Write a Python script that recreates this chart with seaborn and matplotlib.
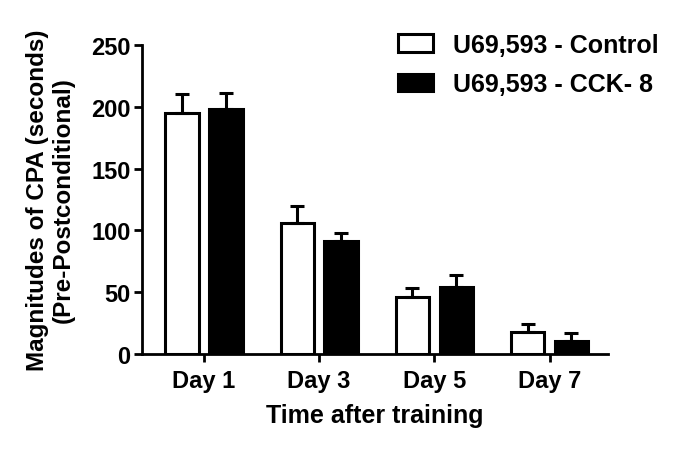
import pandas as pd
import matplotlib
matplotlib.use("Agg")
import matplotlib.pyplot as plt
import seaborn as sns

# === Data ===
days = ["Day 1", "Day 3", "Day 5", "Day 7"]
groups = ["U69,593 - Control", "U69,593 - CCK- 8"]
control_mean = [195, 106, 46, 18]
control_err = [15, 14, 7, 6]
cck_mean = [198, 91, 54, 10]
cck_err = [13, 7, 10, 7]

df = pd.DataFrame({
    "day": days * 2,
    "group": [groups[0]] * 4 + [groups[1]] * 4,
    "value": control_mean + cck_mean,
})
errs = control_err + cck_err

sns.set_style("ticks")
plt.rcParams["font.family"] = ["Liberation Sans", "DejaVu Sans"]
plt.rcParams["font.weight"] = "bold"
for k in ["text.color", "axes.labelcolor", "xtick.color", "ytick.color", "axes.edgecolor"]:
    plt.rcParams[k] = "black"

fig = plt.figure(figsize=(6.85, 4.52), dpi=100)
ax = fig.add_axes([0.207, 0.215, 0.681, 0.683])

sns.barplot(data=df, x="day", y="value", hue="group", order=days,
            hue_order=groups, palette=["white", "black"], width=0.76,
            gap=0.24, edgecolor="black", linewidth=2.2, errorbar=None, ax=ax)

# upper error bars, one per bar patch
bars = [p for p in ax.patches if p.get_height() > 0][:8]
bars = sorted(bars, key=lambda p: (p.get_facecolor()[0] < 0.5, p.get_x()))
for p, e in zip(bars, errs):
    xc = p.get_x() + p.get_width() / 2
    ax.errorbar(xc, p.get_height(), yerr=[[0], [e]], fmt="none",
                ecolor="black", elinewidth=2.2, capsize=5, capthick=2.2, zorder=1)

ax.set_ylim(0, 250)
ax.set_xlim(-0.54, 3.51)
ax.set_yticks([0, 50, 100, 150, 200, 250])
ax.set_xlabel("Time after training", fontsize=18, fontweight="bold", labelpad=8)
ax.set_ylabel("Magnitudes of CPA (seconds)\n(Pre-Postconditional)",
              fontsize=17.5, fontweight="bold", linespacing=1.15, labelpad=12)
ax.tick_params(axis="x", labelsize=17, width=2, length=6, direction="out", pad=5)
ax.tick_params(axis="y", labelsize=17, width=2, length=6, direction="out", pad=2)
for lbl in ax.get_xticklabels() + ax.get_yticklabels():
    lbl.set_fontweight("bold")
sns.despine(ax=ax)
for s in ["left", "bottom"]:
    ax.spines[s].set_linewidth(2)

leg = ax.legend(loc="upper left", bbox_to_anchor=(0.549, 1.04), frameon=False,
                prop={"size": 18, "weight": "bold"}, handlelength=1.4,
                handleheight=0.7, labelspacing=0.62, handletextpad=0.8,
                borderpad=0, borderaxespad=0)
for h in leg.legend_handles:
    h.set_edgecolor("black")
    h.set_linewidth(2.2)

fig.savefig("out.png", dpi=100)
